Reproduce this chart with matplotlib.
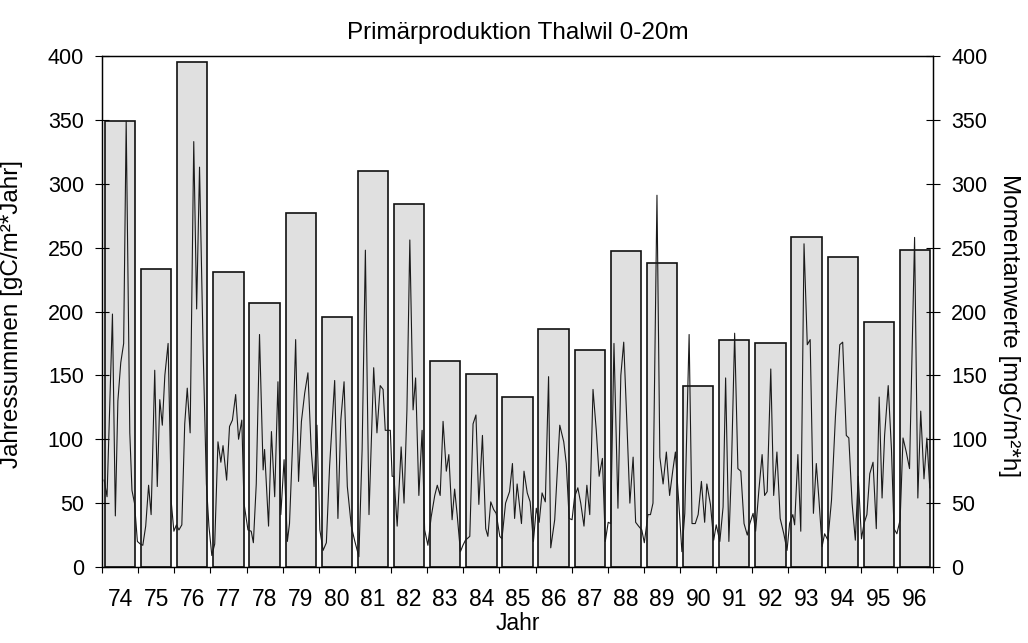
import numpy as np
import matplotlib.pyplot as plt
from matplotlib.ticker import FixedLocator, NullFormatter

plt.rcParams["font.family"] = ["Liberation Sans", "DejaVu Sans"]

# Yearly sums (bars)
years = list(range(1974, 1997))
year_labels = [str(y)[2:] for y in years]
annual_sums = [349, 233, 395, 231, 207, 277, 196, 310, 284, 161, 151, 133,
               186, 170, 247, 238, 142, 178, 175, 258, 243, 192, 248]

# Momentary values (line), time in decimal years
line_time = [
    74.06, 74.14, 74.29, 74.37, 74.44, 74.52, 74.60, 74.67, 74.77, 74.83, 74.90, 74.98,
    75.06, 75.13, 75.21, 75.29, 75.36, 75.46, 75.53, 75.60, 75.67, 75.74, 75.83, 75.92, 75.99,
    76.06, 76.13, 76.21, 76.29, 76.36, 76.44, 76.54, 76.62, 76.70, 76.80, 76.89, 76.96,
    77.04, 77.12, 77.21, 77.29, 77.35, 77.45, 77.53, 77.61, 77.70, 77.78, 77.87, 77.93,
    78.04, 78.13, 78.19, 78.27, 78.36, 78.46, 78.50, 78.61, 78.69, 78.78, 78.87, 78.95,
    79.04, 79.13, 79.19, 79.29, 79.36, 79.44, 79.52, 79.61, 79.70, 79.79, 79.87, 79.95,
    80.03, 80.12, 80.21, 80.30, 80.44, 80.53, 80.61, 80.70, 80.79, 80.90, 80.99,
    81.11, 81.20, 81.29, 81.39, 81.52, 81.61, 81.70, 81.78, 81.84, 81.92, 81.98,
    82.03, 82.08, 82.17, 82.28, 82.36, 82.44, 82.52, 82.61, 82.68, 82.77, 82.86, 82.93,
    83.02, 83.11, 83.21, 83.28, 83.36, 83.44, 83.53, 83.60, 83.69, 83.76, 83.83, 83.92, 83.99,
    84.06, 84.18, 84.27, 84.35, 84.43, 84.53, 84.62, 84.68, 84.76, 84.84, 84.91,
    85.01, 85.07, 85.17, 85.28, 85.36, 85.42, 85.49, 85.61, 85.68, 85.77, 85.85, 85.94,
    86.02, 86.10, 86.18, 86.27, 86.36, 86.42, 86.53, 86.67, 86.78, 86.85, 86.93,
    87.01, 87.08, 87.17, 87.25, 87.34, 87.42, 87.50, 87.59, 87.68, 87.76, 87.85, 87.93,
    88.01, 88.08, 88.17, 88.28, 88.36, 88.44, 88.53, 88.61, 88.70, 88.77, 88.85, 88.94,
    89.01, 89.11, 89.18, 89.25, 89.36, 89.44, 89.53, 89.62, 89.71, 89.80, 89.87, 89.96,
    90.05, 90.13, 90.25, 90.33, 90.42, 90.50, 90.59, 90.68, 90.74, 90.84, 90.93,
    91.00, 91.10, 91.19, 91.26, 91.35, 91.42, 91.51, 91.60, 91.68, 91.77, 91.86, 91.93,
    92.02, 92.09, 92.18, 92.27, 92.34, 92.41, 92.51, 92.59, 92.68, 92.77, 92.87, 92.96,
    93.03, 93.12, 93.17, 93.26, 93.34, 93.43, 93.52, 93.60, 93.69, 93.77, 93.84, 93.93,
    94.00, 94.09, 94.19, 94.30, 94.42, 94.50, 94.60, 94.67, 94.76, 94.85, 94.93,
    95.02, 95.09, 95.17, 95.25, 95.34, 95.43, 95.51, 95.59, 95.66, 95.76, 95.85, 95.92,
    96.00, 96.09, 96.17, 96.26, 96.35, 96.49, 96.58, 96.66, 96.75, 96.83, 96.91,
]
line_values = [
    68, 55, 198, 40, 130, 160, 175, 349, 105, 60, 50, 20,
    18, 17, 32, 64, 41, 154, 63, 131, 111, 150, 175, 50, 28,
    33, 29, 33, 112, 140, 105, 333, 202, 313, 170, 65, 32,
    9, 18, 98, 82, 95, 68, 110, 115, 135, 100, 115, 50,
    29, 28, 19, 65, 182, 76, 92, 32, 106, 55, 145, 41,
    84, 20, 34, 107, 178, 67, 114, 136, 152, 92, 63, 111,
    29, 13, 19, 79, 146, 38, 115, 145, 63, 32, 21,
    8, 92, 248, 41, 156, 105, 142, 139, 107, 107, 107,
    71, 71, 32, 94, 50, 123, 256, 123, 148, 56, 107, 29,
    17, 39, 56, 64, 56, 114, 75, 88, 37, 61, 41, 12, 17,
    21, 24, 112, 119, 49, 103, 30, 24, 51, 45, 42,
    24, 22, 50, 59, 81, 38, 65, 34, 75, 58, 51, 20,
    46, 35, 58, 51, 149, 15, 37, 111, 98, 81, 38,
    37, 55, 62, 50, 32, 64, 41, 139, 107, 71, 85, 20,
    35, 34, 175, 46, 150, 176, 111, 50, 86, 35, 32, 29,
    19, 41, 41, 50, 291, 86, 65, 90, 56, 76, 90, 52,
    12, 42, 182, 34, 34, 41, 67, 35, 65, 49, 21,
    33, 20, 47, 148, 20, 76, 183, 77, 75, 34, 25, 34,
    42, 28, 60, 88, 56, 59, 155, 56, 90, 38, 26, 13,
    34, 41, 33, 88, 28, 253, 174, 178, 42, 81, 54, 16,
    26, 21, 52, 118, 174, 176, 103, 101, 50, 21, 71,
    22, 34, 41, 73, 82, 30, 133, 54, 103, 142, 92, 30,
    26, 37, 101, 90, 77, 258, 54, 122, 69, 101, 62,
]

fig = plt.figure(figsize=(10.28, 6.43), dpi=100)
ax = fig.add_axes([0.0992, 0.1182, 0.8084, 0.7947])

bar_x = np.array(years) + 0.5
ax.bar(bar_x, annual_sums, width=0.84, color="#e0e0e0", edgecolor="#111111", linewidth=1.2, zorder=1)

ax2 = ax.twinx()
ax2.plot(np.array(line_time) + 1900, line_values, color="#1a1a1a", linewidth=0.8, zorder=3)

for a in (ax, ax2):
    a.set_xlim(1974, 1997)
    a.set_ylim(0, 400)
    a.set_yticks(np.arange(0, 401, 50))

fs = 15.5
ax.set_xticks(bar_x)
ax.set_xticklabels(year_labels)
ax.tick_params(axis="x", which="major", length=0, pad=15, labelsize=16.5)
ax.xaxis.set_minor_locator(FixedLocator(list(range(1974, 1998))))
ax.xaxis.set_minor_formatter(NullFormatter())
ax.tick_params(axis="x", which="minor", length=4.5, width=0.8, direction="out")
ax.tick_params(axis="y", direction="inout", length=10, width=0.8, labelsize=fs, pad=8)
ax2.tick_params(axis="y", direction="inout", length=10, width=0.8, labelsize=fs, pad=8)

for a in (ax, ax2):
    for s in a.spines.values():
        s.set_linewidth(0.9)

ax.set_title("Primärproduktion Thalwil 0-20m", fontsize=17.5, pad=12)
ax.set_xlabel("Jahr", fontsize=16.5)
ax.xaxis.set_label_coords(0.5, -0.088)
ax.set_ylabel("Jahressummen [gC/m²*Jahr]", fontsize=17.5)
ax.yaxis.set_label_coords(-0.0955, 0.495)
ax2.set_ylabel("Momentanwerte [mgC/m²*h]", fontsize=17.5, rotation=-90, va="center")
ax2.yaxis.set_label_coords(1.091, 0.472)

fig.savefig("out.png", dpi=100)
